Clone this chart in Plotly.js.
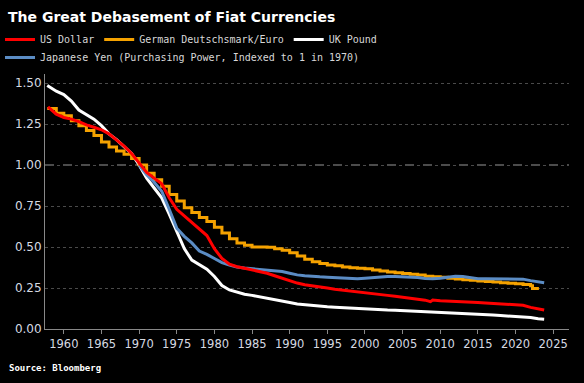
<!DOCTYPE html>
<html>
<head>
<meta charset="utf-8">
<script src="https://cdn.plot.ly/plotly-3.0.1.min.js"></script>
<style>html,body{margin:0;padding:0;background:#000;}#chart{width:584px;height:383px;}</style>
</head>
<body>
<div id="chart"></div>
<script>
// US Dollar (annual, 1958-2023, plus last reading)
const usYears = [1957.9,1959,1960,1961,1962,1963,1964,1965,1966,1967,1968,1969,1970,1971,1972,1973,1974,1975,1976,1977,1978,1979,1980,1981,1982,1983,1984,1985,1986,1987,1988,1989,1990,1991,1992,1993,1994,1995,1996,1997,1998,1999,2000,2001,2002,2003,2004,2005,2006,2007,2008,2008.7,2009,2010,2011,2012,2013,2014,2015,2016,2017,2018,2019,2020,2021,2022,2023,2023.8];
const usValues = [1.355,1.31,1.29,1.28,1.265,1.245,1.23,1.215,1.19,1.155,1.115,1.07,1.01,0.955,0.92,0.885,0.80,0.73,0.69,0.65,0.61,0.57,0.49,0.43,0.395,0.38,0.37,0.36,0.35,0.34,0.325,0.31,0.295,0.28,0.27,0.262,0.256,0.25,0.243,0.237,0.232,0.228,0.22,0.215,0.21,0.205,0.20,0.195,0.188,0.183,0.176,0.167,0.177,0.173,0.17,0.166,0.164,0.162,0.161,0.159,0.156,0.153,0.15,0.148,0.145,0.132,0.122,0.116];

// German Deutschmark / Euro (annual steps)
const dmYears = [1957.8,1959,1960,1961,1962,1963,1964,1965,1966,1967,1968,1969,1970,1971,1972,1973,1974,1975,1976,1977,1978,1979,1980,1981,1982,1983,1984,1985,1986,1987,1988,1989,1990,1991,1992,1993,1994,1995,1996,1997,1998,1999,2000,2001,2002,2003,2004,2005,2006,2007,2008,2009,2010,2011,2012,2013,2014,2015,2016,2017,2018,2019,2020,2021,2022,2022.25,2023.1];
const dmValues = [1.345,1.315,1.30,1.27,1.24,1.21,1.18,1.14,1.11,1.085,1.065,1.04,1.0,0.95,0.91,0.87,0.82,0.78,0.74,0.71,0.68,0.655,0.62,0.585,0.55,0.525,0.51,0.50,0.50,0.498,0.49,0.48,0.465,0.445,0.425,0.41,0.40,0.39,0.385,0.378,0.374,0.371,0.367,0.36,0.353,0.348,0.343,0.338,0.334,0.33,0.322,0.318,0.316,0.31,0.305,0.301,0.297,0.293,0.29,0.286,0.282,0.279,0.276,0.272,0.263,0.247,0.247];

// UK Pound
const ukYears = [1957.8,1959,1960,1961,1962,1963,1964,1965,1966,1967,1968,1969,1970,1971,1972,1973,1974,1975,1976,1977,1978,1979,1980,1981,1982,1983,1984,1985,1986,1987,1988,1989,1990,1991,1992,1993,1994,1995,1996,1997,1998,1999,2000,2001,2002,2003,2004,2005,2006,2007,2008,2009,2010,2011,2012,2013,2014,2015,2016,2017,2018,2019,2020,2021,2022,2023,2023.8];
const ukValues = [1.485,1.45,1.43,1.39,1.335,1.305,1.28,1.24,1.19,1.155,1.11,1.07,1.0,0.92,0.86,0.80,0.70,0.59,0.49,0.42,0.39,0.365,0.32,0.265,0.238,0.225,0.212,0.205,0.197,0.19,0.182,0.172,0.162,0.152,0.147,0.143,0.14,0.136,0.133,0.13,0.127,0.125,0.122,0.12,0.118,0.116,0.115,0.113,0.111,0.109,0.106,0.104,0.103,0.10,0.096,0.094,0.092,0.09,0.089,0.086,0.082,0.08,0.078,0.076,0.07,0.062,0.059];

// Japanese Yen (from 1970)
const jpYears = [1970,1971,1972,1973,1974,1975,1976,1977,1978,1979,1980,1981,1982,1983,1984,1985,1986,1987,1988,1989,1990,1991,1992,1993,1994,1995,1996,1997,1998,1999,2000,2001,2002,2003,2004,2005,2006,2007,2008,2009,2010,2011,2012,2013,2014,2015,2016,2017,2018,2019,2020,2021,2022,2023,2023.8];
const jpValues = [1.0,0.94,0.895,0.84,0.73,0.615,0.565,0.525,0.475,0.455,0.43,0.405,0.39,0.378,0.372,0.367,0.362,0.358,0.354,0.35,0.34,0.33,0.325,0.32,0.318,0.316,0.314,0.31,0.306,0.307,0.31,0.314,0.318,0.32,0.32,0.318,0.317,0.314,0.308,0.306,0.31,0.316,0.322,0.32,0.312,0.306,0.306,0.305,0.303,0.302,0.302,0.304,0.295,0.287,0.282];

const seriesNames = ["US Dollar","German Deutschsmark/Euro","UK Pound","Japanese Yen (Purchasing Power, Indexed to 1 in 1970)"];
const yTicks = [0,0.25,0.5,0.75,1.0,1.25,1.5];
const yTickText = ["0.00","0.25","0.50","0.75","1.00","1.25","1.50"];
const xTicks = [1960,1965,1970,1975,1980,1985,1990,1995,2000,2005,2010,2015,2020,2025];

const traces = [
  {x: ukYears, y: ukValues, name: seriesNames[2], legend: 'legend', legendrank: 3, type: 'scatter', mode: 'lines', line: {color: '#ffffff', width: 3}},
  {x: dmYears, y: dmValues, name: seriesNames[1], legend: 'legend', legendrank: 2, type: 'scatter', mode: 'lines', line: {color: '#f5a200', width: 3, shape: 'hv'}},
  {x: jpYears, y: jpValues, name: seriesNames[3], legend: 'legend2', type: 'scatter', mode: 'lines', line: {color: '#5b8cc4', width: 3}},
  {x: usYears, y: usValues, name: seriesNames[0], legend: 'legend', legendrank: 1, type: 'scatter', mode: 'lines', line: {color: '#ff0000', width: 3}}
];

const legendFont = {family: 'DejaVu Sans Mono', size: 10, color: '#d8d8d8'};
const layout = {
  width: 584, height: 383,
  paper_bgcolor: '#000', plot_bgcolor: '#000',
  margin: {l: 45, r: 15, t: 74, b: 54, autoexpand: false},
  title: {text: 'The Great Debasement of Fiat Currencies', xref: 'container', yref: 'container', x: 8/584, xanchor: 'left', y: 1 - 17/383, yanchor: 'middle', font: {family: 'DejaVu Sans', size: 14, color: '#ffffff', weight: 'bold'}},
  showlegend: true,
  legend: {orientation: 'h', xref: 'container', yref: 'container', x: 0, xanchor: 'left', y: 1 - 25/383, yanchor: 'top', font: legendFont, bgcolor: 'rgba(0,0,0,0)', traceorder: 'normal', itemwidth: 30},
  legend2: {orientation: 'h', xref: 'container', yref: 'container', x: 0, xanchor: 'left', y: 1 - 43/383, yanchor: 'top', font: legendFont, bgcolor: 'rgba(0,0,0,0)', itemwidth: 30},
  xaxis: {range: [1957.5, 2027.1], tickvals: xTicks, ticks: 'outside', ticklen: 4, tickcolor: '#888', showline: true, linecolor: '#888', linewidth: 1, showgrid: false, zeroline: false, tickfont: {family: 'DejaVu Sans', size: 11.5, color: '#d6dae2'}},
  yaxis: {range: [0, 1.555], tickvals: yTicks, ticktext: yTickText, showline: true, linecolor: '#888', linewidth: 1, showgrid: true, gridcolor: '#4a4a4a', griddash: 'dot', gridwidth: 1, zeroline: false, ticks: '', tickfont: {family: 'DejaVu Sans', size: 12, color: '#d6dae2'}},
  shapes: [{type: 'line', xref: 'paper', x0: 0, x1: 1, yref: 'y', y0: 1, y1: 1, line: {color: '#999', width: 1, dash: 'dash'}, layer: 'below'}],
  annotations: [{text: '<b>Source: Bloomberg</b>', xref: 'paper', yref: 'paper', x: -0.072, xanchor: 'left', y: -0.153, yanchor: 'middle', showarrow: false, font: {family: 'DejaVu Sans Mono', size: 9, color: '#ffffff'}}]
};

Plotly.newPlot('chart', traces, layout, {displayModeBar: false, staticPlot: true});
</script>
</body>
</html>
